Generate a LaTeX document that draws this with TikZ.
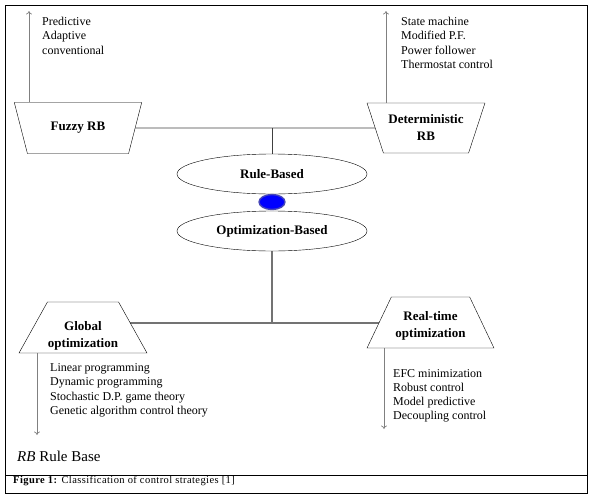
\documentclass[tikz,border=0pt]{standalone}
\usepackage{fontspec}
\setmainfont{Liberation Serif}
\newfontfamily\capfont[LetterSpace=4]{Liberation Serif}
\usepackage{tikz}
\usetikzlibrary{shapes.geometric,backgrounds,arrows.meta}

\begin{document}
\begin{tikzpicture}[x=1pt,y=-1pt,
trap/.style n args={3}{trapezium,draw,fill=white,trapezium stretches=true,trapezium left angle=#2,trapezium right angle=#2,minimum width=#1,minimum height=#3,inner sep=0pt,align=center,font=\fontsize{13}{17}\selectfont\bfseries},
oval/.style={ellipse,draw,fill=white,minimum width=190pt,minimum height=40pt,inner sep=0pt,font=\fontsize{13}{16}\selectfont\bfseries},
item/.style={anchor=base west,inner sep=0pt,font=\fontsize{12}{14.5}\selectfont},
link/.style={draw=black!75,line width=0.8pt},
arr/.style={draw=black!50,line width=0.7pt,-{To[length=3.5pt,width=6pt]}}]
\useasboundingbox (0,0) rectangle (598,501);
\draw[line width=0.9pt] (5,5) rectangle (587,493);
\draw[line width=0.9pt] (5,475) -- (587,475);

\node[trap={128pt}{122}{51pt}] (fuzzy) at (78,128) {Fuzzy RB};
\node[trap={118pt}{119}{50pt}] (determ) at (426,128) {Deterministic\\RB};
\node[oval] (rule) at (272,174) {Rule-Based};
\node[oval] (opt) at (272,231) {Optimization-Based};
\node[trap={128pt}{58}{51pt}] (global) at (83,327.5) {\rule{0pt}{25pt}Global\\optimization};
\node[trap={127pt}{58}{51pt}] (realtime) at (430.5,322.5) {\rule{0pt}{15pt}Real-time\\optimization};
\node[ellipse,fill=blue,draw=blue!45!gray,line width=1.4pt,minimum width=26pt,minimum height=15pt,inner sep=0pt] (dot) at (272,202) {};

\coordinate (optjoin) at (272,323);
\begin{scope}[on background layer]
\draw[link] (fuzzy) -- (determ);
\draw[link] (rule.north) -- (rule.north |- fuzzy.center);
\draw[link,line width=1.3pt,draw=black!55] (global.center |- optjoin) -- (realtime.center |- optjoin);
\draw[link,line width=1.3pt,draw=black!55] (opt) -- (optjoin);
\end{scope}

\coordinate (fztip) at (29,11);
\coordinate (dttip) at (386,11);
\coordinate (gltip) at (37,435);
\coordinate (rttip) at (384,429);
\draw[arr] (fztip |- fuzzy.north) -- (fztip);
\draw[arr] (dttip |- determ.north) -- (dttip);
\draw[arr] (gltip |- global.south) -- (gltip);
\draw[arr] (rttip |- realtime.south) -- (rttip);

\foreach \i/\t in {0/Predictive,1/Adaptive,2/conventional} {
   \node[item] (fz\i) at (42,25+14.5*\i) {\t};
}
\foreach \i/\t in {0/State machine,1/Modified P.F.,2/Power follower,3/Thermostat control} {
   \node[item] (dt\i) at (401,25+14.5*\i) {\t};
}
\foreach \i/\t in {0/Linear programming,1/Dynamic programming,2/Stochastic D.P. game theory,3/Genetic algorithm control theory} {
   \node[item] (gl\i) at (50,371+14.5*\i) {\t};
}
\foreach \i/\t in {0/EFC minimization,1/Robust control,2/Model predictive,3/Decoupling control} {
   \node[item] (rt\i) at (393,377+14*\i) {\t};
}

\node[item,font=\fontsize{15}{18}\selectfont] (legend) at (17,461.5) {\textit{RB} Rule Base};
\node[item,font=\fontsize{10.5}{12}\capfont] (caption) at (13,483.5) {\textbf{Figure 1:} Classification of control strategies [1]};
\end{tikzpicture}
\end{document}
